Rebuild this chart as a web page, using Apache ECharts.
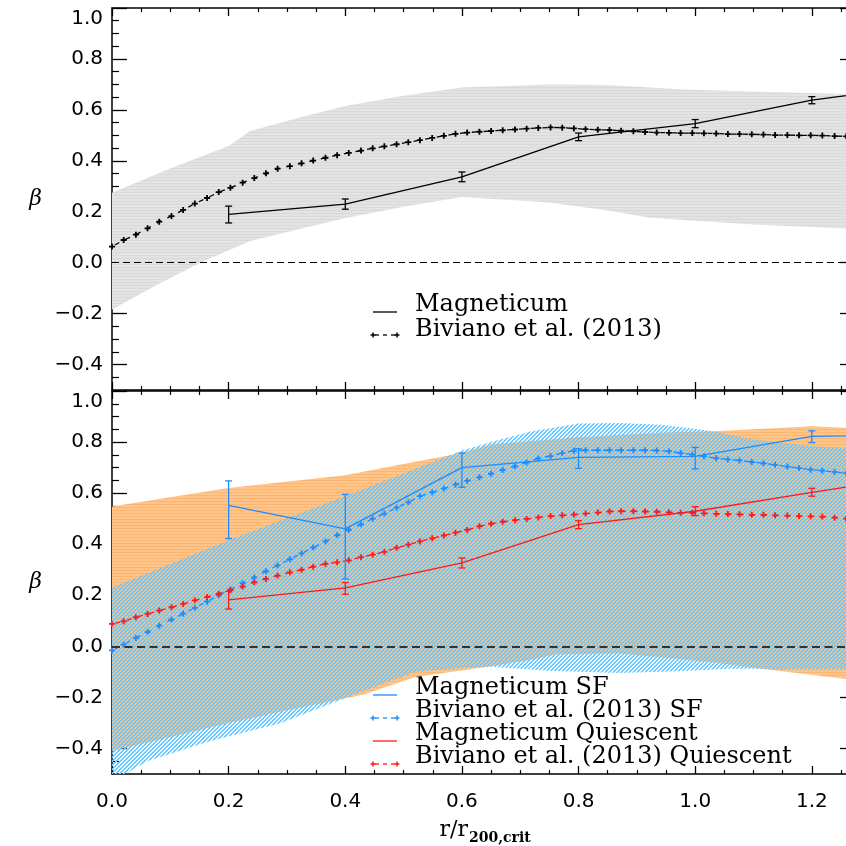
<!DOCTYPE html>
<html>
<head>
<meta charset="utf-8">
<script src="https://cdn.jsdelivr.net/npm/echarts@6/dist/echarts.min.js"></script>
<style>
html, body { margin: 0; padding: 0; background: #fff; }
#chart { width: 846px; height: 846px; }
</style>
</head>
<body>
<div id="chart"></div>
<script>
// ---- Biviano et al. (2013) profiles, sampled on a common radial grid ----
const bivR = [0.000,0.020,0.041,0.061,0.081,0.102,0.122,0.142,0.163,0.183,0.203,0.224,0.244,0.264,0.284,0.305,
  0.325,0.345,0.366,0.386,0.406,0.427,0.447,0.467,0.488,0.508,0.528,0.549,0.569,0.589,0.609,0.630,
  0.650,0.670,0.691,0.711,0.731,0.752,0.772,0.792,0.812,0.833,0.853,0.873,0.894,0.914,0.934,0.955,
  0.975,0.995,1.015,1.036,1.056,1.076,1.097,1.117,1.137,1.158,1.178,1.198,1.218,1.239,1.259,1.279];
const bivAll = [0.063,0.089,0.110,0.135,0.161,0.183,0.207,0.232,0.254,0.277,
  0.294,0.314,0.332,0.351,0.369,0.379,0.390,0.401,0.412,0.422,
  0.431,0.440,0.449,0.457,0.465,0.473,0.481,0.490,0.498,0.506,
  0.511,0.514,0.517,0.520,0.523,0.526,0.529,0.531,0.530,0.527,
  0.524,0.522,0.521,0.518,0.516,0.513,0.511,0.510,0.509,0.509,
  0.508,0.507,0.505,0.505,0.504,0.503,0.501,0.501,0.500,0.500,
  0.499,0.497,0.496,0.495];
const bivSF = [-0.016,0.007,0.033,0.056,0.081,0.105,0.128,0.151,0.175,0.200,
  0.223,0.247,0.270,0.294,0.317,0.341,0.364,0.387,0.411,0.435,
  0.456,0.478,0.500,0.520,0.543,0.564,0.588,0.603,0.618,0.633,
  0.648,0.662,0.676,0.691,0.705,0.720,0.736,0.745,0.757,0.766,
  0.768,0.768,0.768,0.768,0.768,0.768,0.767,0.764,0.757,0.751,
  0.744,0.737,0.732,0.728,0.722,0.717,0.711,0.704,0.698,0.692,
  0.688,0.683,0.678,0.674];
const bivQ = [0.088,0.098,0.114,0.127,0.140,0.153,0.166,0.180,0.193,0.206,
  0.220,0.234,0.251,0.264,0.277,0.290,0.300,0.312,0.323,0.329,
  0.337,0.349,0.359,0.370,0.386,0.398,0.411,0.423,0.434,0.445,
  0.456,0.470,0.480,0.488,0.494,0.499,0.505,0.510,0.513,0.516,
  0.520,0.524,0.528,0.529,0.529,0.528,0.527,0.525,0.523,0.523,
  0.521,0.519,0.518,0.517,0.515,0.515,0.513,0.512,0.510,0.509,
  0.508,0.504,0.500,0.497];

// ---- Magneticum radial bins with error ranges ----
const magR = [0.2, 0.4, 0.6, 0.8, 1.0, 1.2, 1.4];
const magAll   = [0.190, 0.230, 0.337, 0.494, 0.546, 0.638, 0.700];
const magAllLo = [0.156, 0.210, 0.318, 0.479, 0.530, 0.624, 0.686];
const magAllHi = [0.222, 0.250, 0.356, 0.509, 0.562, 0.652, 0.714];
const magSF    = [0.552, 0.460, 0.700, 0.740, 0.744, 0.822, 0.830];
const magSFLo  = [0.422, 0.264, 0.623, 0.697, 0.695, 0.798, 0.805];
const magSFHi  = [0.648, 0.595, 0.757, 0.774, 0.779, 0.844, 0.855];
const magQ     = [0.182, 0.229, 0.327, 0.477, 0.529, 0.603, 0.672];
const magQLo   = [0.146, 0.204, 0.307, 0.461, 0.512, 0.588, 0.657];
const magQHi   = [0.215, 0.250, 0.346, 0.492, 0.547, 0.619, 0.687];

// ---- scatter bands ----
const grayUpR = [0, 0.1, 0.2, 0.237, 0.32, 0.4, 0.5, 0.6, 0.75, 0.85, 0.98, 1.065, 1.3];
const grayUp  = [0.275, 0.37, 0.458, 0.517, 0.569, 0.615, 0.655, 0.688, 0.70, 0.698, 0.68, 0.674, 0.66];
const grayLoR = [0, 0.075, 0.151, 0.237, 0.32, 0.4, 0.5, 0.6, 0.75, 0.85, 0.92, 1.0, 1.1, 1.3];
const grayLo  = [-0.184, -0.09, 0.0, 0.085, 0.131, 0.175, 0.22, 0.258, 0.236, 0.205, 0.177, 0.165, 0.15, 0.13];

const qUpR = [0, 0.2, 0.4, 0.5, 0.6, 0.65, 0.8, 0.94, 1.03, 1.09, 1.2, 1.3];
const qUp  = [0.548, 0.62, 0.67, 0.714, 0.757, 0.79, 0.819, 0.836, 0.842, 0.849, 0.862, 0.852];
const qLoR = [0, 0.1, 0.2, 0.3, 0.43, 0.52, 0.65, 0.72, 0.76, 0.87, 0.95, 1.04, 1.12, 1.2, 1.3];
const qLo  = [-0.41, -0.355, -0.30, -0.25, -0.19, -0.12, -0.078, -0.052, -0.032, -0.028, -0.045, -0.065, -0.09, -0.111, -0.14];

const sfUpR = [0, 0.2, 0.43, 0.6, 0.65, 0.72, 0.8, 0.87, 0.94, 1.0, 1.03, 1.1, 1.2, 1.3];
const sfUp  = [0.229, 0.415, 0.614, 0.767, 0.80, 0.842, 0.873, 0.875, 0.868, 0.852, 0.842, 0.81, 0.785, 0.77];
const sfLoR = [0, 0.06, 0.17, 0.29, 0.34, 0.43, 0.52, 0.6, 0.65, 0.75, 0.87, 0.97, 1.06, 1.3];
const sfLo  = [-0.53, -0.45, -0.37, -0.30, -0.255, -0.176, -0.10, -0.085, -0.08, -0.096, -0.104, -0.098, -0.088, -0.09];

// ---- axes ----
const X_MIN = 0, X_MAX = 1.274, Y_MIN = -0.5, Y_MAX = 1.0;
const xMajor = [0, 0.2, 0.4, 0.6, 0.8, 1.0, 1.2];
const yMajor = [-0.4, -0.2, 0, 0.2, 0.4, 0.6, 0.8, 1.0];
const isMajor = (list, v) => list.some(m => Math.abs(m - v) < 1e-6);
const xMinor = [], yMinor = [];
for (let i = 1; i <= 25; i++) { const v = +(i * 0.05).toFixed(2); if (!isMajor(xMajor, v)) xMinor.push(v); }
for (let i = -9; i <= 19; i++) { const v = +(i * 0.05).toFixed(2); if (!isMajor(yMajor, v)) yMinor.push(v); }

const BLUE = '#1e8cff', RED = '#ff1a1a', BLACK = '#000';
const TICK_FONT = 'DejaVu Sans';
const SERIF = 'DejaVu Serif';

// ---- fill textures ----
function pattern(w, h, paint) {
  const c = document.createElement('canvas');
  c.width = w; c.height = h;
  paint(c.getContext('2d'));
  return { image: c, repeat: 'repeat' };
}
const grayFill = pattern(4, 3, ctx => {
  ctx.fillStyle = '#e3e3e3'; ctx.fillRect(0, 0, 4, 3);
  ctx.fillStyle = '#d9d9d9'; ctx.fillRect(0, 0, 4, 1);
});
const orangeFill = pattern(4, 3, ctx => {
  ctx.fillStyle = '#ffc488'; ctx.fillRect(0, 0, 4, 3);
  ctx.fillStyle = '#fcb674'; ctx.fillRect(0, 0, 4, 1);
});
// diagonal hatch, partly see-through so the orange band shows under it
const blueFill = pattern(4, 4, ctx => {
  for (let y = 0; y < 4; y++) for (let x = 0; x < 4; x++) {
    ctx.fillStyle = (x + y) % 4 < 2 ? '#69c8ff' : 'rgba(105,200,255,0.12)';
    ctx.fillRect(x, y, 1, 1);
  }
});

const PLUS = 'path://M-1.5,-5h3v3.5h3.5v3h-3.5v3.5h-3v-3.5h-3.5v-3h3.5z';

// ---- builders ----
function xAxesFor(g, withLabels) {
  const base = { type: 'value', gridIndex: g, min: X_MIN, max: X_MAX, splitLine: { show: false },
    axisLabel: { show: false }, axisTick: { show: false }, axisLine: { show: false, onZero: false } };
  const line = { show: true, onZero: false, lineStyle: { color: BLACK, width: 1.5 } };
  return [
    Object.assign({}, base, { position: 'bottom', axisLine: line,
      axisTick: { show: true, inside: true, length: 8, customValues: xMajor, lineStyle: { color: BLACK, width: 1.3 } },
      axisLabel: { show: withLabels, customValues: xMajor, margin: 18, formatter: v => v.toFixed(1),
        fontFamily: TICK_FONT, fontSize: 20, color: BLACK } }),
    Object.assign({}, base, { position: 'bottom',
      axisTick: { show: true, inside: true, length: 4, customValues: xMinor, lineStyle: { color: BLACK, width: 1.2 } } }),
    Object.assign({}, base, { position: 'top', axisLine: line,
      axisTick: { show: true, inside: true, length: 8, customValues: xMajor, lineStyle: { color: BLACK, width: 1.3 } } }),
    Object.assign({}, base, { position: 'top',
      axisTick: { show: true, inside: true, length: 4, customValues: xMinor, lineStyle: { color: BLACK, width: 1.2 } } })
  ];
}
function yLabel(v) {
  const t = (v < -1e-9 ? '\u2212' : '') + Math.abs(v).toFixed(1);
  return v > 0.99 ? '{p|' + t + '}' : t;
}
function yAxesFor(g) {
  const base = { type: 'value', gridIndex: g, min: Y_MIN, max: Y_MAX, splitLine: { show: false },
    axisLabel: { show: false }, axisTick: { show: false }, axisLine: { show: false, onZero: false } };
  const line = { show: true, onZero: false, lineStyle: { color: BLACK, width: 1.5 } };
  return [
    Object.assign({}, base, { position: 'left', axisLine: line,
      name: '\u03b2', nameLocation: 'middle', nameRotate: 0, nameGap: 70,
      nameTextStyle: { fontFamily: SERIF, fontStyle: 'italic', fontSize: 22, color: BLACK, padding: [0, 0, 16, 0] },
      axisTick: { show: true, inside: true, length: 15, customValues: yMajor, lineStyle: { color: BLACK, width: 1.3 } },
      axisLabel: { show: true, customValues: yMajor, margin: 9, formatter: yLabel,
        fontFamily: TICK_FONT, fontSize: 20, color: BLACK,
        rich: { p: { padding: [22, 0, 0, 0], fontFamily: TICK_FONT, fontSize: 20, color: BLACK } } } }),
    Object.assign({}, base, { position: 'left',
      axisTick: { show: true, inside: true, length: 7, customValues: yMinor, lineStyle: { color: BLACK, width: 1.2 } } }),
    Object.assign({}, base, { position: 'right', axisLine: line,
      axisTick: { show: true, inside: true, length: 15, customValues: yMajor, lineStyle: { color: BLACK, width: 1.3 } } }),
    Object.assign({}, base, { position: 'right',
      axisTick: { show: true, inside: true, length: 7, customValues: yMinor, lineStyle: { color: BLACK, width: 1.2 } } })
  ];
}

function band(g, upR, up, loR, lo, fill, z) {
  return {
    type: 'custom', xAxisIndex: g * 4, yAxisIndex: g * 4, silent: true, clip: true, z: z,
    data: [[0, 0]], encode: { x: 0, y: 1 },
    renderItem(params, api) {
      const pts = [];
      for (let i = 0; i < upR.length; i++) pts.push(api.coord([upR[i], up[i]]));
      for (let i = loR.length - 1; i >= 0; i--) pts.push(api.coord([loR[i], lo[i]]));
      const cs = params.coordSys;
      return {
        type: 'polygon', shape: { points: pts }, style: { fill: fill, stroke: null },
        clipPath: { type: 'rect', shape: { x: cs.x, y: cs.y, width: cs.width, height: cs.height } }
      };
    }
  };
}
function errBars(g, xs, lo, hi, color) {
  return {
    type: 'custom', xAxisIndex: g * 4, yAxisIndex: g * 4, silent: true, clip: true, z: 6,
    data: xs.map((x, i) => [x, lo[i], hi[i]]), encode: { x: 0, y: [1, 2] },
    renderItem(params, api) {
      const a = api.coord([api.value(0), api.value(1)]);
      const b = api.coord([api.value(0), api.value(2)]);
      const w = 3.5, st = { stroke: color, lineWidth: 1.3 };
      return { type: 'group', children: [
        { type: 'line', shape: { x1: a[0], y1: a[1], x2: b[0], y2: b[1] }, style: st },
        { type: 'line', shape: { x1: a[0] - w, y1: a[1], x2: a[0] + w, y2: a[1] }, style: st },
        { type: 'line', shape: { x1: b[0] - w, y1: b[1], x2: b[0] + w, y2: b[1] }, style: st }
      ] };
    }
  };
}
function solid(g, xs, ys, color, zeroLine) {
  const s = {
    type: 'line', xAxisIndex: g * 4, yAxisIndex: g * 4, z: 5, silent: true, clip: true,
    data: xs.map((x, i) => [x, ys[i]]), showSymbol: false, symbol: 'none',
    lineStyle: { color: color, width: 1.3 }
  };
  if (zeroLine) {
    s.markLine = { silent: true, symbol: ['none', 'none'], label: { show: false }, animation: false,
      lineStyle: zeroLine, data: [{ yAxis: 0 }] };
  }
  return s;
}
function dashedPlus(g, xs, ys, color) {
  return {
    type: 'line', xAxisIndex: g * 4, yAxisIndex: g * 4, z: 4, silent: true, clip: true,
    data: xs.map((x, i) => [x, ys[i]]), symbol: PLUS, symbolSize: 6, showSymbol: true,
    itemStyle: { color: color },
    lineStyle: { color: color, width: 1.3, type: [5, 6.8], dashOffset: 8.4 }
  };
}

// ---- legends ----
function plusMark(x, y, color) {
  return { type: 'group', children: [
    { type: 'line', shape: { x1: x - 2.5, y1: y, x2: x + 2.5, y2: y }, style: { stroke: color, lineWidth: 1.5 } },
    { type: 'line', shape: { x1: x, y1: y - 2.5, x2: x, y2: y + 2.5 }, style: { stroke: color, lineWidth: 1.5 } }
  ] };
}
function legendSolid(y, color) {
  return { type: 'line', shape: { x1: 373, y1: y, x2: 397, y2: y }, style: { stroke: color, lineWidth: 1.3 } };
}
function legendDashed(y, color) {
  return { type: 'group', children: [
    { type: 'line', shape: { x1: 373, y1: y, x2: 397, y2: y }, style: { stroke: color, lineWidth: 1.3, lineDash: [4, 4], lineDashOffset: -2 } },
    plusMark(373, y, color), plusMark(397, y, color)
  ] };
}
function legendText(y, text, size) {
  return { type: 'text', x: 415, y: y, style: { text: text, fill: BLACK, font: size + 'px "' + SERIF + '"',
    textAlign: 'left', textVerticalAlign: 'middle', verticalAlign: 'middle' } };
}

const chart = echarts.init(document.getElementById('chart'), null, { renderer: 'canvas' });
chart.setOption({
  animation: false,
  backgroundColor: '#fff',
  grid: [
    { left: 112, top: 8, width: 743, height: 382, outerBoundsMode: 'none', containLabel: false },
    { left: 112, top: 391, width: 743, height: 383, outerBoundsMode: 'none', containLabel: false }
  ],
  xAxis: xAxesFor(0, false).concat(xAxesFor(1, true)),
  yAxis: yAxesFor(0).concat(yAxesFor(1)),
  series: [
    band(0, grayUpR, grayUp, grayLoR, grayLo, grayFill, 1),
    solid(0, magR, magAll, BLACK, { type: [7, 4], color: BLACK, width: 1 }),
    errBars(0, magR, magAllLo, magAllHi, BLACK),
    dashedPlus(0, bivR, bivAll, BLACK),

    band(1, qUpR, qUp, qLoR, qLo, orangeFill, 1),
    band(1, sfUpR, sfUp, sfLoR, sfLo, blueFill, 2),
    solid(1, magR, magSF, BLUE),
    solid(1, magR, magQ, RED, { type: [8, 4.5], color: '#333', width: 2 }),
    errBars(1, magR, magSFLo, magSFHi, BLUE),
    errBars(1, magR, magQLo, magQHi, RED),
    dashedPlus(1, bivR, bivSF, BLUE),
    dashedPlus(1, bivR, bivQ, RED)
  ],
  graphic: [
    legendSolid(312, BLACK), legendText(305, 'Magneticum', 24),
    legendDashed(335, BLACK), legendText(330, 'Biviano et al. (2013)', 24),

    legendSolid(695, BLUE), legendText(688, 'Magneticum SF', 24),
    legendDashed(718, BLUE), legendText(711, 'Biviano et al. (2013) SF', 24),
    legendSolid(741, RED), legendText(734, 'Magneticum Quiescent', 24),
    legendDashed(764, RED), legendText(757, 'Biviano et al. (2013) Quiescent', 24),

    { type: 'text', x: 468, y: 830, style: { text: 'r/r', fill: BLACK, font: '22px "' + SERIF + '"',
      textAlign: 'right', textVerticalAlign: 'middle', verticalAlign: 'middle' } },
    { type: 'text', x: 469, y: 838, style: { text: '200,crit', fill: BLACK, font: 'bold 14px "' + SERIF + '"',
      textAlign: 'left', textVerticalAlign: 'middle', verticalAlign: 'middle' } }
  ]
});
</script>
</body>
</html>
